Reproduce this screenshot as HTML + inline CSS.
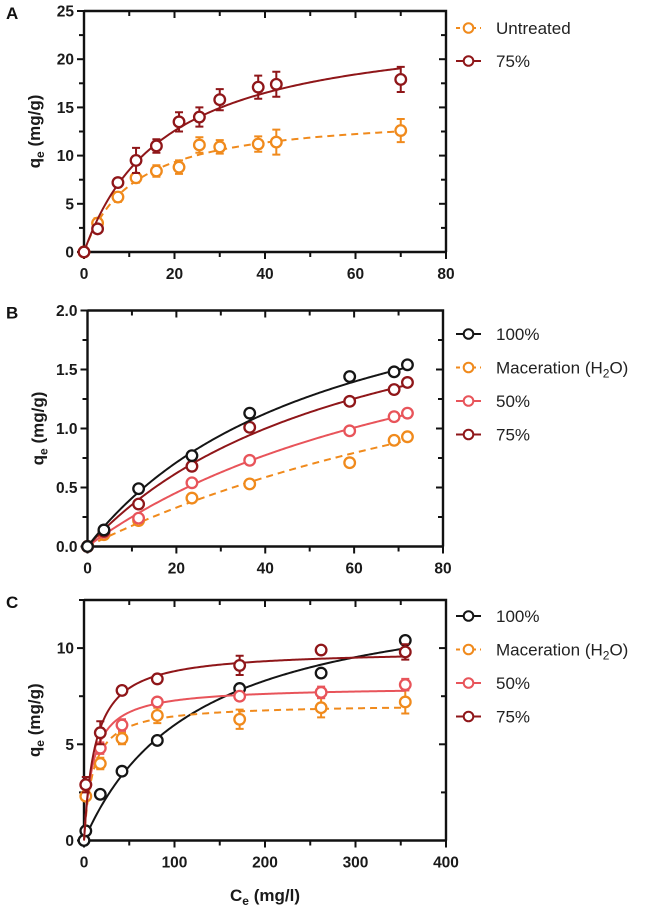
<!DOCTYPE html>
<html><head><meta charset="utf-8"><style>
html,body{margin:0;padding:0;background:#fff;}
svg{display:block;font-family:"Liberation Sans",Arial,sans-serif;}
</style></head><body>
<svg id="chart" width="653" height="909" viewBox="0 0 653 909" xmlns="http://www.w3.org/2000/svg"></svg>
<script>
// ---- Panel A data ----
const aX = [0, 3, 7.5, 11.5, 16, 21, 25.5, 30, 38.5, 42.5, 70];
const aUntreated = [0, 3.0, 5.7, 7.7, 8.4, 8.8, 11.1, 10.9, 11.2, 11.4, 12.6];
const aUntreatedErr = [0, 0.5, 0.5, 0.5, 0.6, 0.7, 0.8, 0.7, 0.8, 1.3, 1.2];
const a75 = [0, 2.4, 7.2, 9.5, 11.0, 13.5, 14.0, 15.8, 17.1, 17.4, 17.9];
const a75Err = [0, 0.3, 0.4, 1.3, 0.7, 1.0, 1.0, 1.1, 1.2, 1.3, 1.3];
const aXTicks = [0, 20, 40, 60, 80];
const aYTicks = [0, 5, 10, 15, 20, 25];
// ---- Panel B data ----
const bX = [0, 3.7, 11.5, 23.5, 36.5, 59, 69, 72];
const b100 = [0, 0.14, 0.49, 0.77, 1.13, 1.44, 1.48, 1.54];
const bMac = [0, 0.10, 0.22, 0.41, 0.53, 0.71, 0.90, 0.93];
const b50 = [0, 0.12, 0.24, 0.54, 0.73, 0.98, 1.10, 1.13];
const b75 = [0, 0.13, 0.36, 0.68, 1.01, 1.23, 1.33, 1.39];
const bXTicks = [0, 20, 40, 60, 80];
const bYTicks = [0, 0.5, 1.0, 1.5, 2.0];
const bYLabels = ["0.0", "0.5", "1.0", "1.5", "2.0"];
// ---- Panel C data ----
const cX = [0, 2, 18, 42, 81, 172, 262, 355];
const c100 = [0, 0.5, 2.4, 3.6, 5.2, 7.9, 8.7, 10.4];
const cMac = [null, 2.3, 4.0, 5.3, 6.5, 6.3, 6.9, 7.2];
const cMacErr = [0, 0.2, 0.3, 0.3, 0.4, 0.5, 0.5, 0.6];
const c50 = [null, 2.9, 4.8, 6.0, 7.2, 7.5, 7.7, 8.1];
const c50Err = [0, 0.2, 0.3, 0.3, 0.2, 0.2, 0.3, 0.3];
const c75 = [null, 2.9, 5.6, 7.8, 8.4, 9.1, 9.9, 9.8];
const c75Err = [0, 0.4, 0.6, 0.2, 0.2, 0.5, 0.1, 0.4];
const cXTicks = [0, 100, 200, 300, 400];
const cYTicks = [0, 5, 10];
// Langmuir fit parameters [qmax, K]
const aFitUntreated = [14.5, 0.09], aFit75 = [24, 0.055];
const bFit100 = [2.69, 0.018], bFit75 = [2.55, 0.0161], bFit50 = [2.54, 0.01095], bFitMac = [2.67, 0.00704];
const cFit100 = [13.5, 0.008], cFit75 = [9.9, 0.08], cFit50 = [8.0, 0.1], cFitMac = [7.1, 0.1];

const C = {black:"#151515", orange:"#f08a1c", pink:"#e8545a", dark:"#8f1619"};
const svg = document.getElementById('chart');
const NS = "http://www.w3.org/2000/svg";
function mk(tag, attrs, parent){const e=document.createElementNS(NS,tag);for(const k in attrs)e.setAttribute(k,attrs[k]);(parent||svg).appendChild(e);return e;}

function panel(cfg){
  const g = mk('g',{});
  
  
  const sx = v => cfg.x0 + (v - cfg.xmin)/(cfg.xmax - cfg.xmin)*(cfg.x1 - cfg.x0);
  const sy = v => cfg.y0 - (v - cfg.ymin)/(cfg.ymax - cfg.ymin)*(cfg.y0 - cfg.y1);
  const fr = mk('path',{d:`M${cfg.x0},${cfg.y1} L${cfg.x0},${cfg.y0} L${cfg.x1},${cfg.y0} M${cfg.x0},${cfg.y1} L${cfg.x1},${cfg.y1} L${cfg.x1},${cfg.y0}`,stroke:"#111","stroke-width":2.4,fill:"none"},g);
  
  
  const xs = cfg.xTicks;
  const xStep = (xs[1]-xs[0])/2;
  for(let v=cfg.xmin; v<=cfg.xmax+1e-9; v+=xStep){
    const major = Math.abs(((v-cfg.xmin)/(xs[1]-xs[0])) - Math.round((v-cfg.xmin)/(xs[1]-xs[0])))<1e-6;
    const X=sx(v), L = major?7:5;
    mk('line',{x1:X,x2:X,y1:cfg.y0,y2:cfg.y0+L,stroke:"#111","stroke-width":2},g);
    if(v>cfg.xmin && v<cfg.xmax) mk('line',{x1:X,x2:X,y1:cfg.y1,y2:cfg.y1+L,stroke:"#111","stroke-width":2},g);
  }
  xs.forEach(v=>{
    const t=mk('text',{x:sx(v),y:cfg.y0+27,"text-anchor":"middle","font-size":15.5,"font-weight":"bold",fill:"#1a1a1a"},g);
    t.textContent=v;
    
    
  });
  const ys = cfg.yTicks;
  const yStep = (ys[1]-ys[0])/2;
  for(let v=cfg.ymin; v<=cfg.ymax+1e-9; v+=yStep){
    const Y=sy(v);
    const major = Math.abs(((v-cfg.ymin)/(ys[1]-ys[0])) - Math.round((v-cfg.ymin)/(ys[1]-ys[0])))<1e-6;
    const L = major?7:5;
    mk('line',{x1:cfg.x0-L,x2:cfg.x0,y1:Y,y2:Y,stroke:"#111","stroke-width":2},g);
    if(v>cfg.ymin && v<cfg.ymax-1e-9) mk('line',{x1:cfg.x1-L,x2:cfg.x1,y1:Y,y2:Y,stroke:"#111","stroke-width":2},g);
  }
  ys.forEach((v,i)=>{
    const t=mk('text',{x:cfg.x0-10,y:sy(v)+5.5,"text-anchor":"end","font-size":15.5,"font-weight":"bold",fill:"#1a1a1a"},g);
    t.textContent = cfg.yLabels?cfg.yLabels[i]:v;
    
    
  });
  const yc = (cfg.y0+cfg.y1)/2;
  const yt = mk('text',{x:0,y:0,transform:`translate(${cfg.x0-44},${yc}) rotate(-90)`,"text-anchor":"middle","font-size":17,"font-weight":"bold",fill:"#1a1a1a"},g);
  yt.innerHTML = 'q<tspan dy="4" font-size="12">e</tspan><tspan dy="-4"> (mg/g)</tspan>';
  
  
  const pl = mk('text',{x:6,y:cfg.y1+8,"font-size":17,"font-weight":"bold",fill:"#111"},g);
  pl.textContent = cfg.label;
  
  
  cfg.series.forEach(s=>{
    const sg = mk('g',{},g);
    
    
    let d='';
    const xe = Math.max(...cfg.xData);
    for(let i=0;i<=200;i++){
      const x = xe*i/200;
      const q = s.fit[0]*s.fit[1]*x/(1+s.fit[1]*x);
      d += (i?'L':'M')+sx(x).toFixed(2)+','+sy(q).toFixed(2);
    }
    const p = mk('path',{d:d,stroke:s.color,"stroke-width":2,fill:"none"},sg);
    if(s.dash) p.setAttribute('stroke-dasharray','7,5');
    
    
    cfg.xData.forEach((x,i)=>{
      const v = s.values[i];
      if(v===null||v===undefined) return;
      const X=sx(x), Y=sy(v);
      if(s.err && s.err[i]>0){
        const e=s.err[i];
        const eb = mk('path',{d:`M${X},${sy(v+e)} L${X},${sy(v-e)} M${X-4},${sy(v+e)} L${X+4},${sy(v+e)} M${X-4},${sy(v-e)} L${X+4},${sy(v-e)}`,stroke:s.color,"stroke-width":2,fill:"none"},sg);
        
        
      }
      const c = mk('circle',{cx:X,cy:Y,r:5.3,fill:"#fff",stroke:s.color,"stroke-width":2.3},sg);
      
      
    });
  });
  cfg.series.slice().sort((a,b)=>a.li-b.li).forEach((s,k)=>{
    const Y = cfg.legY + k*cfg.legDY;
    const lg = mk('g',{},g);
    
    
    const ln = mk('line',{x1:456,x2:481,y1:Y,y2:Y,stroke:s.color,"stroke-width":2},lg);
    if(s.dash) ln.setAttribute('stroke-dasharray','4,4');
    mk('circle',{cx:468.5,cy:Y,r:4.8,fill:"#fff",stroke:s.color,"stroke-width":2},lg);
    const t = mk('text',{x:496,y:Y+6,"font-size":17,fill:"#222"},lg);
    t.innerHTML = s.legend;
  });
}

panel({name:'panel-a',label:'A',x0:84,x1:446,y0:252,y1:11,xmin:0,xmax:80,ymin:0,ymax:25,
  xTicks:aXTicks,yTicks:aYTicks,xData:aX,legY:28,legDY:33,
  series:[
    {name:'series-untreated',li:0,legend:'Untreated',color:C.orange,dash:true,values:aUntreated,err:aUntreatedErr,fit:aFitUntreated},
    {name:'series-75',li:1,legend:'75%',color:C.dark,values:a75,err:a75Err,fit:aFit75}
  ]});
panel({name:'panel-b',label:'B',x0:87.5,x1:443,y0:546.5,y1:310.5,xmin:0,xmax:80,ymin:0,ymax:2,
  xTicks:bXTicks,yTicks:bYTicks,yLabels:bYLabels,xData:bX,legY:334,legDY:33.5,
  series:[
    {name:'series-mac',li:1,legend:'Maceration (H<tspan dy="4" font-size="12">2</tspan><tspan dy="-4">O)</tspan>',color:C.orange,dash:true,values:bMac,fit:bFitMac},
    {name:'series-50',li:2,legend:'50%',color:C.pink,values:b50,fit:bFit50},
    {name:'series-75',li:3,legend:'75%',color:C.dark,values:b75,fit:bFit75},
    {name:'series-100',li:0,legend:'100%',color:C.black,values:b100,fit:bFit100}
  ]});
panel({name:'panel-c',label:'C',x0:84,x1:446,y0:840.5,y1:600,xmin:0,xmax:400,ymin:0,ymax:12.5,
  xTicks:cXTicks,yTicks:cYTicks,xData:cX,legY:616,legDY:33.5,
  series:[
    {name:'series-100',li:0,legend:'100%',color:C.black,values:c100,fit:cFit100},
    {name:'series-mac',li:1,legend:'Maceration (H<tspan dy="4" font-size="12">2</tspan><tspan dy="-4">O)</tspan>',color:C.orange,dash:true,values:cMac,err:cMacErr,fit:cFitMac},
    {name:'series-50',li:2,legend:'50%',color:C.pink,values:c50,err:c50Err,fit:cFit50},
    {name:'series-75',li:3,legend:'75%',color:C.dark,values:c75,err:c75Err,fit:cFit75}
  ]});
const xt = mk('text',{x:265,y:901,"text-anchor":"middle","font-size":17,"font-weight":"bold",fill:"#1a1a1a"});
xt.innerHTML='C<tspan dy="4" font-size="12">e</tspan><tspan dy="-4"> (mg/l)</tspan>';


</script>
</body></html>
